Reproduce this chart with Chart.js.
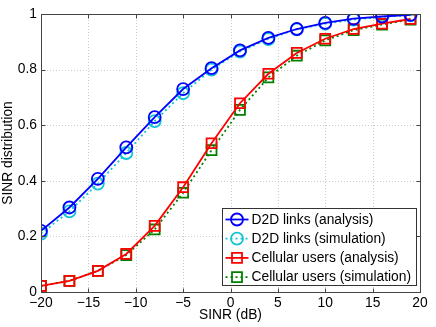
<!DOCTYPE html>
<html><head><meta charset="utf-8">
<script src="https://cdn.jsdelivr.net/npm/chart.js@4/dist/chart.umd.min.js"></script>
<style>html,body{margin:0;padding:0;background:#fff}#wrap{width:436px;height:327px}</style>
</head><body><div id="wrap"><canvas id="c" width="436" height="327"></canvas></div>
<script>
const sinrDb = [-20,-17,-14,-11,-8,-5,-2,1,4,7,10,13,16,19];
const d2dAnalysis = [0.22,0.304,0.407,0.52,0.629,0.73,0.805,0.869,0.914,0.946,0.968,0.983,0.991,0.997];
const d2dSimulation = [0.21,0.29,0.39,0.50,0.615,0.715,0.80,0.865,0.91,0.945,0.965,0.98,0.99,0.995];
const cellAnalysis = [0.022,0.04,0.076,0.137,0.238,0.377,0.535,0.679,0.785,0.86,0.911,0.946,0.965,0.982];
const cellSimulation = [0.022,0.04,0.076,0.133,0.225,0.357,0.51,0.655,0.772,0.85,0.905,0.942,0.962,0.98];
const seriesLabels = ['D2D links (analysis)','D2D links (simulation)','Cellular users (analysis)','Cellular users (simulation)'];
const xTicks = [-20,-15,-10,-5,0,5,10,15,20];
const yTicks = [0,0.2,0.4,0.6,0.8,1];

const FONT = 'Liberation Sans, Arial, sans-serif';
const FS = 13.8;
const pts = arr => arr.map((v,i)=>({x:sinrDb[i], y:v}));
const styles = [
  {color:'#0000ff', dash:[], marker:'circle', r:6},
  {color:'#10c4d4', dash:[2,3], marker:'circle', r:6},
  {color:'#ff0000', dash:[], marker:'rect', r:7},
  {color:'#008000', dash:[2,3], marker:'rect', r:7}
];
const values = [d2dAnalysis, d2dSimulation, cellAnalysis, cellSimulation];
const order = [1,2,1,2];
const datasets = values.map((v,i)=>({
  label: seriesLabels[i], data: pts(v), borderColor: styles[i].color, backgroundColor:'rgba(0,0,0,0)',
  borderWidth: 1.8, borderDash: styles[i].dash, pointStyle: styles[i].marker, pointRadius: styles[i].r,
  pointBorderWidth: 1.8, pointBorderColor: styles[i].color, pointBackgroundColor:'rgba(0,0,0,0)',
  showLine:true, tension:0, order: order[i]
}));

const fmt = v => (v<0 ? '\u2212'+Math.abs(v) : String(v));

const frame = {
  id:'frame',
  beforeDatasetsDraw(chart){
    const {ctx, chartArea:a, scales:{x,y}} = chart;
    ctx.save();
    ctx.strokeStyle='#ccc'; ctx.lineWidth=1; ctx.setLineDash([1,2]);
    xTicks.forEach(t=>{const px=Math.round(x.getPixelForValue(t))+0.5; if(t>-20&&t<20){ctx.beginPath();ctx.moveTo(px,a.top);ctx.lineTo(px,a.bottom);ctx.stroke();}});
    yTicks.forEach(t=>{const py=Math.round(y.getPixelForValue(t))+0.5; if(t>0&&t<1){ctx.beginPath();ctx.moveTo(a.left,py);ctx.lineTo(a.right,py);ctx.stroke();}});
    ctx.restore();
  },
  afterDatasetsDraw(chart){
    const {ctx, chartArea:a, scales:{x,y}} = chart;
    ctx.save();
    ctx.strokeStyle='#444'; ctx.lineWidth=1; ctx.setLineDash([]);
    const L=Math.round(a.left)+0.5, R=Math.round(a.right)+0.5, T=Math.round(a.top)+0.5, B=Math.round(a.bottom)+0.5;
    ctx.strokeRect(L,T,R-L,B-T);
    const tl=4;
    xTicks.forEach(t=>{const px=Math.round(x.getPixelForValue(t))+0.5;ctx.beginPath();ctx.moveTo(px,B);ctx.lineTo(px,B-tl);ctx.moveTo(px,T);ctx.lineTo(px,T+tl);ctx.stroke();});
    yTicks.forEach(t=>{const py=Math.round(y.getPixelForValue(t))+0.5;ctx.beginPath();ctx.moveTo(L,py);ctx.lineTo(L+tl,py);ctx.moveTo(R,py);ctx.lineTo(R-tl,py);ctx.stroke();});
    // legend
    const bx=Math.round(a.right)-197.5, by=Math.round(a.bottom)-83.5, bw=194, bh=77;
    ctx.fillStyle='#fff'; ctx.fillRect(bx,by,bw,bh);
    ctx.strokeStyle='#333'; ctx.strokeRect(bx,by,bw,bh);
    ctx.font=FS+'px '+FONT; ctx.textBaseline='middle'; ctx.textAlign='left';
    chart.data.datasets.forEach((ds,i)=>{
      const cy=by+11+i*19.2; const s=styles[i];
      ctx.strokeStyle=s.color; ctx.lineWidth=1.8; ctx.setLineDash(s.dash);
      ctx.beginPath(); ctx.moveTo(bx+3,cy); ctx.lineTo(bx+26,cy); ctx.stroke();
      ctx.setLineDash([]);
      const mx=bx+14.5;
      ctx.beginPath();
      if(s.marker==='circle'){ctx.arc(mx,cy,s.r,0,Math.PI*2);} else {ctx.rect(mx-5,cy-5,10,10);}
      ctx.stroke();
      ctx.fillStyle='#000'; ctx.fillText(ds.label,bx+29,cy+0.5);
    });
    ctx.restore();
  }
};

new Chart(document.getElementById('c'),{
  type:'scatter',
  data:{datasets},
  options:{
    responsive:false, animation:false, devicePixelRatio:1,
    layout:{padding:{top:14,right:16,left:0,bottom:4}},
    plugins:{legend:{display:false},tooltip:{enabled:false}},
    scales:{
      x:{type:'linear',min:-20,max:20,
        afterFit(s){s.height=31;},
        afterBuildTicks(s){s.ticks=xTicks.map(v=>({value:v}));},
        grid:{display:false,drawTicks:false}, border:{display:false},
        ticks:{color:'#000',font:{family:FONT,size:FS},padding:3,maxRotation:0,autoSkip:false,callback:v=>fmt(v)},
        title:{display:true,text:'SINR (dB)',color:'#000',font:{family:FONT,size:FS},padding:{top:0,bottom:0}}
      },
      y:{type:'linear',min:0,max:1,
        afterFit(s){s.width=41;},
        afterBuildTicks(s){s.ticks=yTicks.map(v=>({value:v}));},
        grid:{display:false,drawTicks:false}, border:{display:false},
        ticks:{color:'#000',font:{family:FONT,size:FS},padding:4,autoSkip:false,callback:v=>fmt(v)},
        title:{display:true,text:'SINR distribution',color:'#000',font:{family:FONT,size:FS},padding:{top:0,bottom:0}}
      }
    }
  },
  plugins:[frame]
});
</script></body></html>
